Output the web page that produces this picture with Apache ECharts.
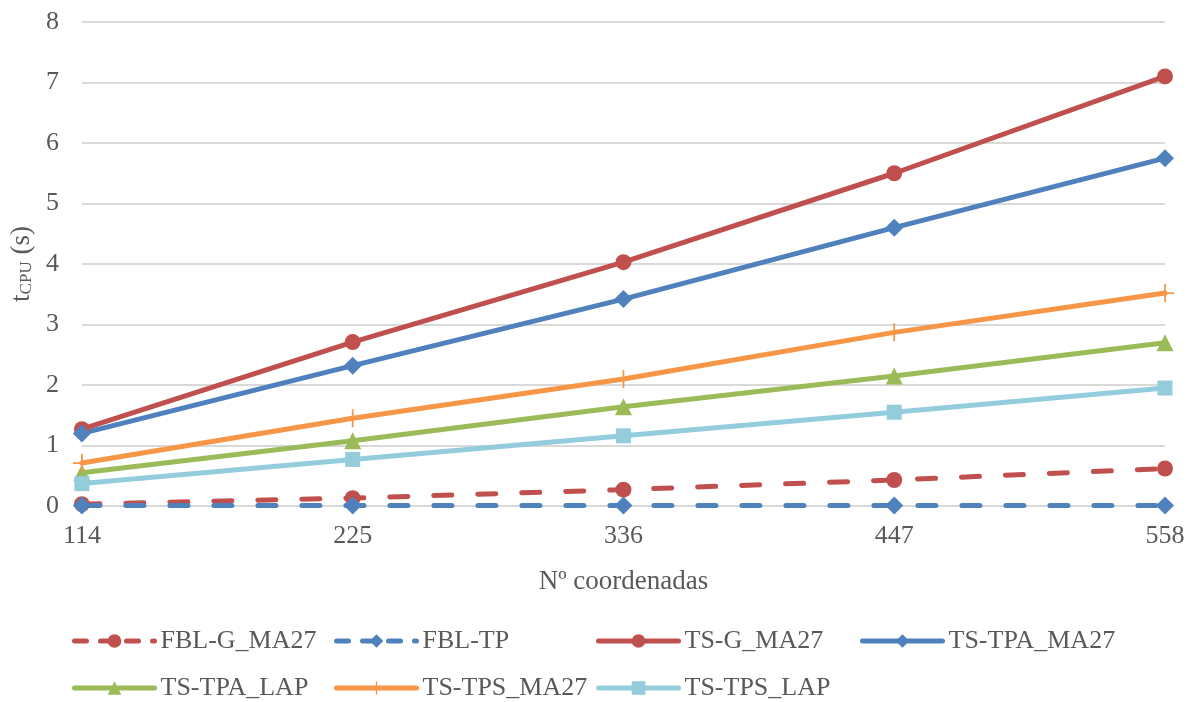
<!DOCTYPE html>
<html><head><meta charset="utf-8">
<script src="https://cdn.jsdelivr.net/npm/echarts@6/dist/echarts.min.js"></script>
<style>html,body{margin:0;padding:0;background:#fff}#c{width:1194px;height:702px}</style>
</head><body><div id="c"></div>
<script>
const categories = ['114', '225', '336', '447', '558'];
const seriesNames = ['FBL-G_MA27', 'FBL-TP', 'TS-G_MA27', 'TS-TPA_MA27', 'TS-TPA_LAP', 'TS-TPS_MA27', 'TS-TPS_LAP'];
const fblG_MA27 = [0.03, 0.13, 0.27, 0.43, 0.62];
const fblTP = [0.01, 0.01, 0.01, 0.01, 0.01];
const tsG_MA27 = [1.27, 2.71, 4.03, 5.5, 7.1];
const tsTPA_MA27 = [1.2, 2.32, 3.42, 4.6, 5.75];
const tsTPA_LAP = [0.55, 1.08, 1.64, 2.15, 2.7];
const tsTPS_MA27 = [0.71, 1.45, 2.1, 2.87, 3.52];
const tsTPS_LAP = [0.37, 0.77, 1.16, 1.55, 1.95];
const yTicks = [0, 1, 2, 3, 4, 5, 6, 7, 8];

const FONT = 'Liberation Serif';
const TXT = '#595959';
const plus = 'path://M9,0h2v20h-2zM0,9h20v2h-20z';
const colors = ['#C0504D', '#4F81BD', '#C0504D', '#4F81BD', '#9BBB59', '#F79646', '#93CDDD'];
const dashedFlags = [true, true, false, false, false, false, false];

function mk(name, data, color, symbol, size, dashed) {
  return {
    name, type: 'line', data, symbol, symbolSize: size,
    showAllSymbol: true,
    itemStyle: { color: color },
    lineStyle: { color: color, width: 5, type: dashed ? [18, 26] : 'solid', cap: 'round' },
    emphasis: { disabled: true },
    animation: false
  };
}

const series = [
  mk(seriesNames[0], fblG_MA27, colors[0], 'circle', 16, true),
  mk(seriesNames[1], fblTP, colors[1], 'diamond', 18, true),
  mk(seriesNames[2], tsG_MA27, colors[2], 'circle', 16, false),
  mk(seriesNames[3], tsTPA_MA27, colors[3], 'diamond', 18, false),
  mk(seriesNames[4], tsTPA_LAP, colors[4], 'triangle', 17, false),
  mk(seriesNames[5], tsTPS_MA27, colors[5], plus, 18, false),
  mk(seriesNames[6], tsTPS_LAP, colors[6], 'rect', 15, false)
];

const legendPos = [[72, 628], [334, 628], [596, 628], [860, 628], [72, 675], [334, 675], [596, 675]];
const legends = seriesNames.map((n, i) => ({
  data: [n], left: legendPos[i][0], top: legendPos[i][1], orient: 'horizontal',
  itemWidth: 80, itemHeight: 17, itemGap: 0, padding: 0,
  lineStyle: { width: 5, color: colors[i], type: dashedFlags[i] ? [12, 14] : 'solid', cap: 'round' },
  textStyle: { fontFamily: FONT, fontSize: 26, color: TXT, padding: [0, 0, 0, 1] },
  selectedMode: false
}));

const chart = echarts.init(document.getElementById('c'), null, { renderer: 'canvas' });
chart.setOption({
  backgroundColor: '#fff',
  animation: false,
  grid: { left: 80, right: 29, top: 22, bottom: 196, containLabel: false },
  legend: legends,
  xAxis: {
    type: 'category', data: categories, boundaryGap: false,
    name: 'Nº coordenadas', nameLocation: 'middle', nameGap: 62,
    nameTextStyle: { fontFamily: FONT, fontSize: 27, color: TXT },
    axisLine: { show: false }, axisTick: { show: false },
    axisLabel: { fontFamily: FONT, fontSize: 26, color: TXT, margin: 17 },
    splitLine: { show: false }
  },
  yAxis: {
    type: 'value', min: yTicks[0], max: yTicks[yTicks.length - 1], interval: 1,
    name: '{t|t}{s|CPU}{t| (s)}', nameLocation: 'middle', nameGap: 36, nameRotate: 90,
    nameTextStyle: { fontFamily: FONT, fontSize: 26, color: TXT,
      rich: { t: { fontFamily: FONT, fontSize: 27, color: TXT }, s: { fontFamily: FONT, fontSize: 17, color: TXT, verticalAlign: 'bottom', padding: [10, 0, 0, 0] } } },
    axisLine: { show: false }, axisTick: { show: false },
    axisLabel: { fontFamily: FONT, fontSize: 26, color: TXT, margin: 23 },
    splitLine: { lineStyle: { color: '#D9D9D9', width: 2 } }
  },
  series
});
</script></body></html>
